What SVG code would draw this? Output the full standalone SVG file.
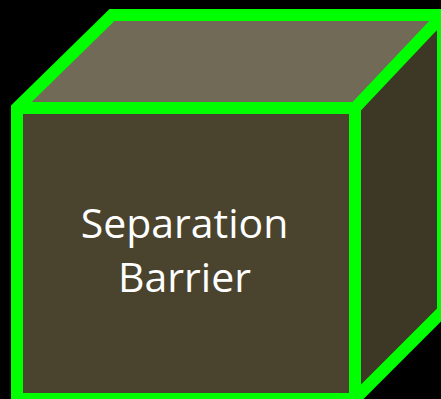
<svg xmlns="http://www.w3.org/2000/svg" width="441" height="399" viewBox="0 0 441 399">
<style>
.edge{stroke:#00FF00;stroke-width:12;stroke-linejoin:miter;fill:none}
.lbl{font-family:"Open Sans","Liberation Sans",sans-serif;font-size:41px;fill:#FFFFFF;text-anchor:middle}
</style>
<rect width="441" height="399" fill="#000000"/>
<g id="cube">
<polygon points="17,108 112,15 443,15 355,108" fill="#706A56"/>
<polygon points="355,108 443,15 443,311 355,399" fill="#3D3726"/>
<rect x="17" y="108" width="338" height="291" fill="#4A442E"/>
<path class="edge" d="M17,399 L17,108 L112,15 L443,15 L443,311 L355,399 Z M17,108 L355,108 L443,15 M355,108 L355,399"/>
</g>
<g id="label">
<text class="lbl" x="184.5" y="237.5">Separation</text>
<text class="lbl" x="184.5" y="291.5">Barrier</text>
</g>
</svg>
